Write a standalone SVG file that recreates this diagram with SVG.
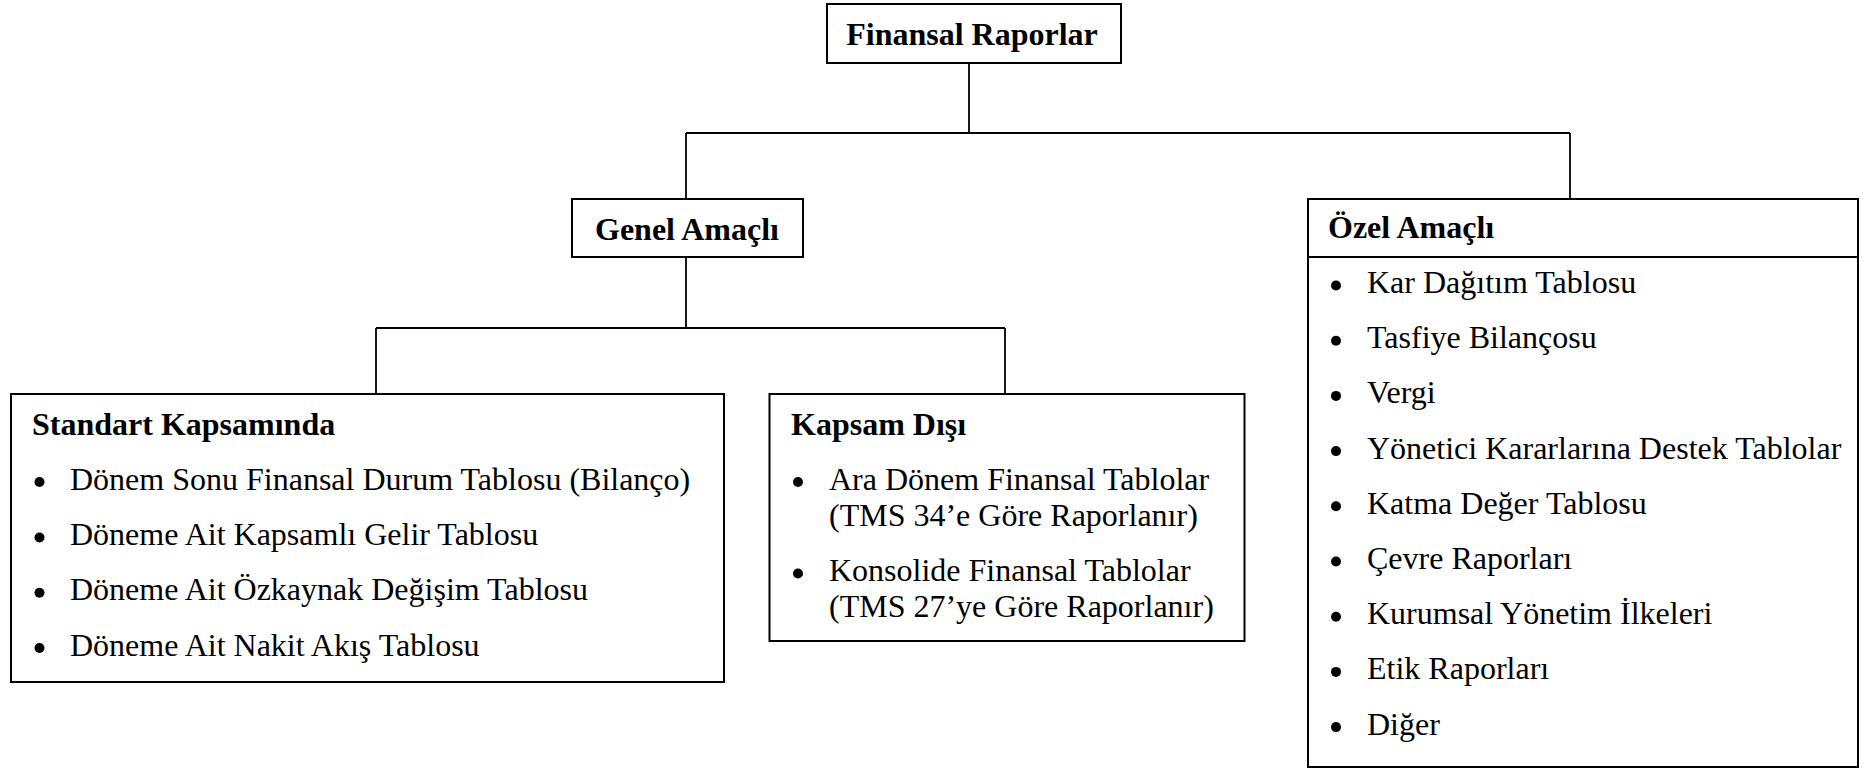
<svg xmlns="http://www.w3.org/2000/svg" width="1863" height="769" viewBox="0 0 1863 769">
<style>
  .box { fill: #ffffff; stroke: #000000; stroke-width: 2; }
  .conn { fill: none; stroke: #000000; stroke-width: 1.8; }
  .t { font-family: "Liberation Serif", "Times New Roman", serif; font-size: 32px; fill: #000000; }
  .b { font-weight: bold; }
  .dot { fill: #000000; }
</style>
<rect x="0" y="0" width="1863" height="769" fill="#ffffff"/>
<g id="connectors">
  <path class="conn" d="M969,63 V133"/>
  <path class="conn" d="M686,133 H1570"/>
  <path class="conn" d="M686,133 V199"/>
  <path class="conn" d="M1570,133 V199"/>
  <path class="conn" d="M686,257 V328"/>
  <path class="conn" d="M376,328 H1005"/>
  <path class="conn" d="M376,328 V394"/>
  <path class="conn" d="M1005,328 V394"/>
</g>
<g id="finansal-raporlar">
  <rect class="box" x="827" y="4" width="294" height="59"/>
  <text class="t b" x="972" y="45" text-anchor="middle">Finansal Raporlar</text>
</g>
<g id="genel-amacli">
  <rect class="box" x="572" y="199" width="231" height="58"/>
  <text class="t b" x="687" y="240" text-anchor="middle">Genel Amaçlı</text>
</g>
<g id="ozel-amacli">
  <rect class="box" x="1308" y="199" width="550" height="568"/>
  <line x1="1308" y1="257" x2="1858" y2="257" stroke="#000000" stroke-width="2"/>
  <text class="t b" x="1328" y="238">Özel Amaçlı</text>
  <circle class="dot" cx="1336" cy="285.5" r="5"/>
  <text class="t" x="1367" y="293">Kar Dağıtım Tablosu</text>
  <circle class="dot" cx="1336" cy="340.7" r="5"/>
  <text class="t" x="1367" y="348.2">Tasfiye Bilançosu</text>
  <circle class="dot" cx="1336" cy="395.9" r="5"/>
  <text class="t" x="1367" y="403.4">Vergi</text>
  <circle class="dot" cx="1336" cy="451.1" r="5"/>
  <text class="t" x="1367" y="458.6">Yönetici Kararlarına Destek Tablolar</text>
  <circle class="dot" cx="1336" cy="506.3" r="5"/>
  <text class="t" x="1367" y="513.8">Katma Değer Tablosu</text>
  <circle class="dot" cx="1336" cy="561.5" r="5"/>
  <text class="t" x="1367" y="569">Çevre Raporları</text>
  <circle class="dot" cx="1336" cy="616.7" r="5"/>
  <text class="t" x="1367" y="624.2">Kurumsal Yönetim İlkeleri</text>
  <circle class="dot" cx="1336" cy="671.9" r="5"/>
  <text class="t" x="1367" y="679.4">Etik Raporları</text>
  <circle class="dot" cx="1336" cy="727.1" r="5"/>
  <text class="t" x="1367" y="734.6">Diğer</text>
</g>
<g id="standart-kapsaminda">
  <rect class="box" x="11" y="394" width="713" height="288"/>
  <text class="t b" x="32" y="435">Standart Kapsamında</text>
  <circle class="dot" cx="39.5" cy="482" r="5"/>
  <text class="t" x="70" y="489.5">Dönem Sonu Finansal Durum Tablosu (Bilanço)</text>
  <circle class="dot" cx="39.5" cy="537.5" r="5"/>
  <text class="t" x="70" y="545">Döneme Ait Kapsamlı Gelir Tablosu</text>
  <circle class="dot" cx="39.5" cy="592.7" r="5"/>
  <text class="t" x="70" y="600.2">Döneme Ait Özkaynak Değişim Tablosu</text>
  <circle class="dot" cx="39.5" cy="648" r="5"/>
  <text class="t" x="70" y="655.5">Döneme Ait Nakit Akış Tablosu</text>
</g>
<g id="kapsam-disi">
  <rect class="box" x="769.5" y="394" width="475" height="247"/>
  <text class="t b" x="791" y="435">Kapsam Dışı</text>
  <circle class="dot" cx="798" cy="482" r="5"/>
  <text class="t" x="829" y="489.5">Ara Dönem Finansal Tablolar</text>
  <text class="t" x="829" y="526">(TMS 34’e Göre Raporlanır)</text>
  <circle class="dot" cx="798" cy="573.5" r="5"/>
  <text class="t" x="829" y="581">Konsolide Finansal Tablolar</text>
  <text class="t" x="829" y="617">(TMS 27’ye Göre Raporlanır)</text>
</g>
</svg>
